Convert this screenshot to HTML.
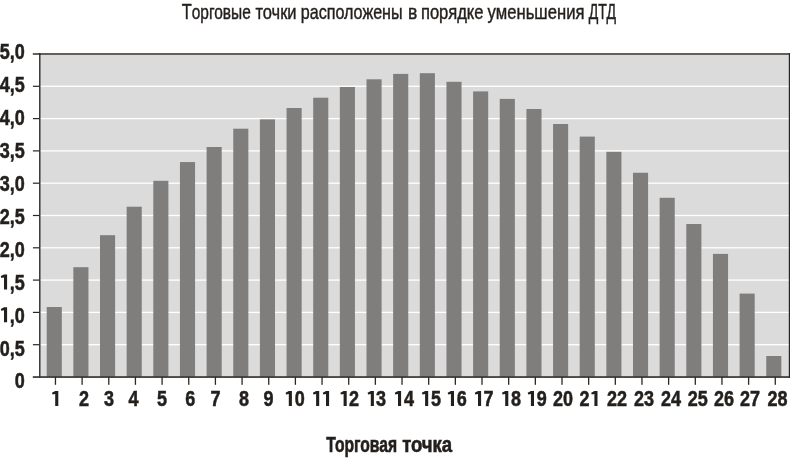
<!DOCTYPE html>
<html><head><meta charset="utf-8"><style>
html,body{margin:0;padding:0;background:#fff;}
body{width:790px;height:458px;overflow:hidden;}
svg{display:block;}
text{font-family:"Liberation Sans",sans-serif;fill:#231f1c;}
.b{stroke:#231f1c;stroke-width:0.55px;}
.t{stroke:#231f1c;stroke-width:0.45px;}
.bt{stroke-width:0.6px;}
.h{fill-opacity:0;stroke-opacity:0;}
svg{will-change:transform;}
.b{font-weight:bold;}
</style></head><body>
<svg width="790" height="458" viewBox="0 0 790 458">
<text x="181.66" y="19.3" class="t" font-size="20.6" textLength="69.12" lengthAdjust="spacingAndGlyphs"><tspan font-size="21.8">Т</tspan>орговые</text>
<text x="255.41" y="19.3" class="t" font-size="20.6" textLength="41.18" lengthAdjust="spacingAndGlyphs">точки</text>
<text x="300.75" y="19.3" class="t" font-size="20.6" textLength="101.83" lengthAdjust="spacingAndGlyphs">расположены</text>
<text x="407.88" y="19.3" class="t" font-size="20.6" textLength="9.31" lengthAdjust="spacingAndGlyphs">в</text>
<text x="420.91" y="19.3" class="t" font-size="20.6" textLength="62.58" lengthAdjust="spacingAndGlyphs">порядке</text>
<text x="487.62" y="19.3" class="t" font-size="20.6" textLength="96.91" lengthAdjust="spacingAndGlyphs">уменьшения</text>
<text x="588.76" y="19.3" class="t" font-size="20.6" textLength="27.20" lengthAdjust="spacingAndGlyphs"><tspan font-size="21.8">Д</tspan><tspan font-size="21.8">Т</tspan><tspan font-size="21.8">Д</tspan></text>
<rect x="40.3" y="54.0" width="749" height="323.0" fill="#dbdbdb"/>
<rect x="40" y="344.05" width="749" height="1.3" fill="#ffffff"/>
<rect x="40" y="311.75" width="749" height="1.3" fill="#ffffff"/>
<rect x="40" y="279.45" width="749" height="1.3" fill="#ffffff"/>
<rect x="40" y="247.15" width="749" height="1.3" fill="#ffffff"/>
<rect x="40" y="214.85" width="749" height="1.3" fill="#ffffff"/>
<rect x="40" y="182.55" width="749" height="1.3" fill="#ffffff"/>
<rect x="40" y="150.25" width="749" height="1.3" fill="#ffffff"/>
<rect x="40" y="117.95" width="749" height="1.3" fill="#ffffff"/>
<rect x="40" y="85.65" width="749" height="1.3" fill="#ffffff"/>
<rect x="46.70" y="307.00" width="15.1" height="70.00" fill="#807e7d"/>
<rect x="73.35" y="267.20" width="15.1" height="109.80" fill="#807e7d"/>
<rect x="100.00" y="235.20" width="15.1" height="141.80" fill="#807e7d"/>
<rect x="126.65" y="206.70" width="15.1" height="170.30" fill="#807e7d"/>
<rect x="153.30" y="180.80" width="15.1" height="196.20" fill="#807e7d"/>
<rect x="179.95" y="162.05" width="15.1" height="214.95" fill="#807e7d"/>
<rect x="206.60" y="147.00" width="15.1" height="230.00" fill="#807e7d"/>
<rect x="233.25" y="128.70" width="15.1" height="248.30" fill="#807e7d"/>
<rect x="259.90" y="119.40" width="15.1" height="257.60" fill="#807e7d"/>
<rect x="286.55" y="108.00" width="15.1" height="269.00" fill="#807e7d"/>
<rect x="313.20" y="97.70" width="15.1" height="279.30" fill="#807e7d"/>
<rect x="339.85" y="87.00" width="15.1" height="290.00" fill="#807e7d"/>
<rect x="366.50" y="79.30" width="15.1" height="297.70" fill="#807e7d"/>
<rect x="393.15" y="73.90" width="15.1" height="303.10" fill="#807e7d"/>
<rect x="419.80" y="73.20" width="15.1" height="303.80" fill="#807e7d"/>
<rect x="446.45" y="81.80" width="15.1" height="295.20" fill="#807e7d"/>
<rect x="473.10" y="91.40" width="15.1" height="285.60" fill="#807e7d"/>
<rect x="499.75" y="98.90" width="15.1" height="278.10" fill="#807e7d"/>
<rect x="526.40" y="109.00" width="15.1" height="268.00" fill="#807e7d"/>
<rect x="553.05" y="124.00" width="15.1" height="253.00" fill="#807e7d"/>
<rect x="579.70" y="136.60" width="15.1" height="240.40" fill="#807e7d"/>
<rect x="606.35" y="151.80" width="15.1" height="225.20" fill="#807e7d"/>
<rect x="633.00" y="172.75" width="15.1" height="204.25" fill="#807e7d"/>
<rect x="659.65" y="197.80" width="15.1" height="179.20" fill="#807e7d"/>
<rect x="686.30" y="224.00" width="15.1" height="153.00" fill="#807e7d"/>
<rect x="712.95" y="253.90" width="15.1" height="123.10" fill="#807e7d"/>
<rect x="739.60" y="293.60" width="15.1" height="83.40" fill="#807e7d"/>
<rect x="766.25" y="356.00" width="15.1" height="21.00" fill="#807e7d"/>
<rect x="32.8" y="53" width="757.2" height="2" fill="#645f5b"/>
<rect x="39.1" y="53" width="1.4" height="324.9" fill="#2b2724"/>
<rect x="32.8" y="376.2" width="757.2" height="1.7" fill="#3a3531"/>
<rect x="788.8" y="53" width="1.2" height="324.9" fill="#2b2724"/>
<rect x="32.9" y="344.10" width="6.5" height="1.2" fill="#2b2724"/>
<rect x="32.9" y="311.80" width="6.5" height="1.2" fill="#2b2724"/>
<rect x="32.9" y="279.50" width="6.5" height="1.2" fill="#2b2724"/>
<rect x="32.9" y="247.20" width="6.5" height="1.2" fill="#2b2724"/>
<rect x="32.9" y="214.90" width="6.5" height="1.2" fill="#2b2724"/>
<rect x="32.9" y="182.60" width="6.5" height="1.2" fill="#2b2724"/>
<rect x="32.9" y="150.30" width="6.5" height="1.2" fill="#2b2724"/>
<rect x="32.9" y="118.00" width="6.5" height="1.2" fill="#2b2724"/>
<rect x="32.9" y="85.70" width="6.5" height="1.2" fill="#2b2724"/>
<rect x="54.80" y="377" width="1.3" height="7.8" fill="#2b2724"/>
<rect x="81.46" y="377" width="1.3" height="7.8" fill="#2b2724"/>
<rect x="108.12" y="377" width="1.3" height="7.8" fill="#2b2724"/>
<rect x="134.78" y="377" width="1.3" height="7.8" fill="#2b2724"/>
<rect x="161.44" y="377" width="1.3" height="7.8" fill="#2b2724"/>
<rect x="188.10" y="377" width="1.3" height="7.8" fill="#2b2724"/>
<rect x="214.76" y="377" width="1.3" height="7.8" fill="#2b2724"/>
<rect x="241.42" y="377" width="1.3" height="7.8" fill="#2b2724"/>
<rect x="268.08" y="377" width="1.3" height="7.8" fill="#2b2724"/>
<rect x="294.74" y="377" width="1.3" height="7.8" fill="#2b2724"/>
<rect x="321.40" y="377" width="1.3" height="7.8" fill="#2b2724"/>
<rect x="348.06" y="377" width="1.3" height="7.8" fill="#2b2724"/>
<rect x="374.72" y="377" width="1.3" height="7.8" fill="#2b2724"/>
<rect x="401.38" y="377" width="1.3" height="7.8" fill="#2b2724"/>
<rect x="428.04" y="377" width="1.3" height="7.8" fill="#2b2724"/>
<rect x="454.70" y="377" width="1.3" height="7.8" fill="#2b2724"/>
<rect x="481.36" y="377" width="1.3" height="7.8" fill="#2b2724"/>
<rect x="508.02" y="377" width="1.3" height="7.8" fill="#2b2724"/>
<rect x="534.68" y="377" width="1.3" height="7.8" fill="#2b2724"/>
<rect x="561.34" y="377" width="1.3" height="7.8" fill="#2b2724"/>
<rect x="588.00" y="377" width="1.3" height="7.8" fill="#2b2724"/>
<rect x="614.66" y="377" width="1.3" height="7.8" fill="#2b2724"/>
<rect x="641.32" y="377" width="1.3" height="7.8" fill="#2b2724"/>
<rect x="667.98" y="377" width="1.3" height="7.8" fill="#2b2724"/>
<rect x="694.64" y="377" width="1.3" height="7.8" fill="#2b2724"/>
<rect x="721.30" y="377" width="1.3" height="7.8" fill="#2b2724"/>
<rect x="747.96" y="377" width="1.3" height="7.8" fill="#2b2724"/>
<rect x="774.62" y="377" width="1.3" height="7.8" fill="#2b2724"/>
<text x="24.8" y="59.10" text-anchor="end" class="b" font-size="22.0" transform="translate(24.8,0) scale(0.82,1) translate(-24.8,0)">5,0</text>
<text x="24.8" y="92.04" text-anchor="end" class="b" font-size="22.0" transform="translate(24.8,0) scale(0.82,1) translate(-24.8,0)">4,5</text>
<text x="24.8" y="124.98" text-anchor="end" class="b" font-size="22.0" transform="translate(24.8,0) scale(0.82,1) translate(-24.8,0)">4,0</text>
<text x="24.8" y="157.92" text-anchor="end" class="b" font-size="22.0" transform="translate(24.8,0) scale(0.82,1) translate(-24.8,0)">3,5</text>
<text x="24.8" y="190.86" text-anchor="end" class="b" font-size="22.0" transform="translate(24.8,0) scale(0.82,1) translate(-24.8,0)">3,0</text>
<text x="24.8" y="223.80" text-anchor="end" class="b" font-size="22.0" transform="translate(24.8,0) scale(0.82,1) translate(-24.8,0)">2,5</text>
<text x="24.8" y="256.74" text-anchor="end" class="b" font-size="22.0" transform="translate(24.8,0) scale(0.82,1) translate(-24.8,0)">2,0</text>
<text x="24.8" y="289.68" text-anchor="end" class="b" font-size="22.0" transform="translate(24.8,0) scale(0.82,1) translate(-24.8,0)"><tspan class="h">1</tspan>,5</text>
<text x="24.8" y="322.62" text-anchor="end" class="b" font-size="22.0" transform="translate(24.8,0) scale(0.82,1) translate(-24.8,0)"><tspan class="h">1</tspan>,0</text>
<text x="24.8" y="355.56" text-anchor="end" class="b" font-size="22.0" transform="translate(24.8,0) scale(0.82,1) translate(-24.8,0)">0,5</text>
<text x="24.8" y="388.50" text-anchor="end" class="b" font-size="22.0" transform="translate(24.8,0) scale(0.82,1) translate(-24.8,0)">0</text>
<text x="55.80" y="405.8" text-anchor="middle" class="b" font-size="22.0" transform="translate(55.80,0) scale(0.82,1) translate(-55.80,0)"><tspan class="h">1</tspan></text>
<text x="83.95" y="405.8" text-anchor="middle" class="b" font-size="22.0" transform="translate(83.95,0) scale(0.82,1) translate(-83.95,0)">2</text>
<text x="108.90" y="405.8" text-anchor="middle" class="b" font-size="22.0" transform="translate(108.90,0) scale(0.82,1) translate(-108.90,0)">3</text>
<text x="133.65" y="405.8" text-anchor="middle" class="b" font-size="22.0" transform="translate(133.65,0) scale(0.82,1) translate(-133.65,0)">4</text>
<text x="162.10" y="405.8" text-anchor="middle" class="b" font-size="22.0" transform="translate(162.10,0) scale(0.82,1) translate(-162.10,0)">5</text>
<text x="190.40" y="405.8" text-anchor="middle" class="b" font-size="22.0" transform="translate(190.40,0) scale(0.82,1) translate(-190.40,0)">6</text>
<text x="215.40" y="405.8" text-anchor="middle" class="b" font-size="22.0" transform="translate(215.40,0) scale(0.82,1) translate(-215.40,0)">7</text>
<text x="244.00" y="405.8" text-anchor="middle" class="b" font-size="22.0" transform="translate(244.00,0) scale(0.82,1) translate(-244.00,0)">8</text>
<text x="268.50" y="405.8" text-anchor="middle" class="b" font-size="22.0" transform="translate(268.50,0) scale(0.82,1) translate(-268.50,0)">9</text>
<text x="294.80" y="405.8" text-anchor="middle" class="b" font-size="22.0" transform="translate(294.80,0) scale(0.82,1) translate(-294.80,0)"><tspan class="h">1</tspan>0</text>
<text x="321.20" y="405.8" text-anchor="middle" class="b" font-size="22.0" transform="translate(321.20,0) scale(0.82,1) translate(-321.20,0)"><tspan class="h">1</tspan><tspan class="h">1</tspan></text>
<text x="349.10" y="405.8" text-anchor="middle" class="b" font-size="22.0" transform="translate(349.10,0) scale(0.82,1) translate(-349.10,0)"><tspan class="h">1</tspan>2</text>
<text x="376.10" y="405.8" text-anchor="middle" class="b" font-size="22.0" transform="translate(376.10,0) scale(0.82,1) translate(-376.10,0)"><tspan class="h">1</tspan>3</text>
<text x="404.00" y="405.8" text-anchor="middle" class="b" font-size="22.0" transform="translate(404.00,0) scale(0.82,1) translate(-404.00,0)"><tspan class="h">1</tspan>4</text>
<text x="431.00" y="405.8" text-anchor="middle" class="b" font-size="22.0" transform="translate(431.00,0) scale(0.82,1) translate(-431.00,0)"><tspan class="h">1</tspan>5</text>
<text x="456.70" y="405.8" text-anchor="middle" class="b" font-size="22.0" transform="translate(456.70,0) scale(0.82,1) translate(-456.70,0)"><tspan class="h">1</tspan>6</text>
<text x="483.50" y="405.8" text-anchor="middle" class="b" font-size="22.0" transform="translate(483.50,0) scale(0.82,1) translate(-483.50,0)"><tspan class="h">1</tspan>7</text>
<text x="511.00" y="405.8" text-anchor="middle" class="b" font-size="22.0" transform="translate(511.00,0) scale(0.82,1) translate(-511.00,0)"><tspan class="h">1</tspan>8</text>
<text x="536.80" y="405.8" text-anchor="middle" class="b" font-size="22.0" transform="translate(536.80,0) scale(0.82,1) translate(-536.80,0)"><tspan class="h">1</tspan>9</text>
<text x="563.10" y="405.8" text-anchor="middle" class="b" font-size="22.0" transform="translate(563.10,0) scale(0.82,1) translate(-563.10,0)">20</text>
<text x="589.60" y="405.8" text-anchor="middle" class="b" font-size="22.0" transform="translate(589.60,0) scale(0.82,1) translate(-589.60,0)">2<tspan class="h">1</tspan></text>
<text x="617.10" y="405.8" text-anchor="middle" class="b" font-size="22.0" transform="translate(617.10,0) scale(0.82,1) translate(-617.10,0)">22</text>
<text x="644.10" y="405.8" text-anchor="middle" class="b" font-size="22.0" transform="translate(644.10,0) scale(0.82,1) translate(-644.10,0)">23</text>
<text x="671.10" y="405.8" text-anchor="middle" class="b" font-size="22.0" transform="translate(671.10,0) scale(0.82,1) translate(-671.10,0)">24</text>
<text x="697.70" y="405.8" text-anchor="middle" class="b" font-size="22.0" transform="translate(697.70,0) scale(0.82,1) translate(-697.70,0)">25</text>
<text x="724.00" y="405.8" text-anchor="middle" class="b" font-size="22.0" transform="translate(724.00,0) scale(0.82,1) translate(-724.00,0)">26</text>
<text x="750.00" y="405.8" text-anchor="middle" class="b" font-size="22.0" transform="translate(750.00,0) scale(0.82,1) translate(-750.00,0)">27</text>
<text x="777.50" y="405.8" text-anchor="middle" class="b" font-size="22.0" transform="translate(777.50,0) scale(0.82,1) translate(-777.50,0)">28</text>
<path d="M55.20,391.00 L58.30,391.00 L58.30,406.00 L55.20,406.00 L55.20,394.00 L52.50,394.50 L52.00,392.70 Z M288.80,391.00 L291.90,391.00 L291.90,406.00 L288.80,406.00 L288.80,394.00 L286.10,394.50 L285.60,392.70 Z M316.10,391.00 L319.20,391.00 L319.20,406.00 L316.10,406.00 L316.10,394.00 L313.40,394.50 L312.90,392.70 Z M326.00,391.00 L329.10,391.00 L329.10,406.00 L326.00,406.00 L326.00,394.00 L323.30,394.50 L322.80,392.70 Z M343.60,391.00 L346.70,391.00 L346.70,406.00 L343.60,406.00 L343.60,394.00 L340.90,394.50 L340.40,392.70 Z M370.80,391.00 L373.90,391.00 L373.90,406.00 L370.80,406.00 L370.80,394.00 L368.10,394.50 L367.60,392.70 Z M398.00,391.00 L401.10,391.00 L401.10,406.00 L398.00,406.00 L398.00,394.00 L395.30,394.50 L394.80,392.70 Z M425.10,391.00 L428.20,391.00 L428.20,406.00 L425.10,406.00 L425.10,394.00 L422.40,394.50 L421.90,392.70 Z M450.90,391.00 L454.00,391.00 L454.00,406.00 L450.90,406.00 L450.90,394.00 L448.20,394.50 L447.70,392.70 Z M478.00,391.00 L481.10,391.00 L481.10,406.00 L478.00,406.00 L478.00,394.00 L475.30,394.50 L474.80,392.70 Z M505.20,391.00 L508.30,391.00 L508.30,406.00 L505.20,406.00 L505.20,394.00 L502.50,394.50 L502.00,392.70 Z M530.90,391.00 L534.00,391.00 L534.00,406.00 L530.90,406.00 L530.90,394.00 L528.20,394.50 L527.70,392.70 Z M594.40,391.00 L597.50,391.00 L597.50,406.00 L594.40,406.00 L594.40,394.00 L591.70,394.50 L591.20,392.70 Z M4.00,274.38 L7.10,274.38 L7.10,289.38 L4.00,289.38 L4.00,277.38 L1.30,277.88 L0.80,276.08 Z M4.00,307.32 L7.10,307.32 L7.10,322.32 L4.00,322.32 L4.00,310.32 L1.30,310.82 L0.80,309.02 Z" fill="#231f1c"/>
<text x="326.33" y="451.9" class="b bt" font-size="21.5" textLength="70.76" lengthAdjust="spacingAndGlyphs">Торговая</text>
<text x="402.14" y="451.9" class="b bt" font-size="21.5" textLength="50.05" lengthAdjust="spacingAndGlyphs">точка</text>
</svg>
</body></html>
